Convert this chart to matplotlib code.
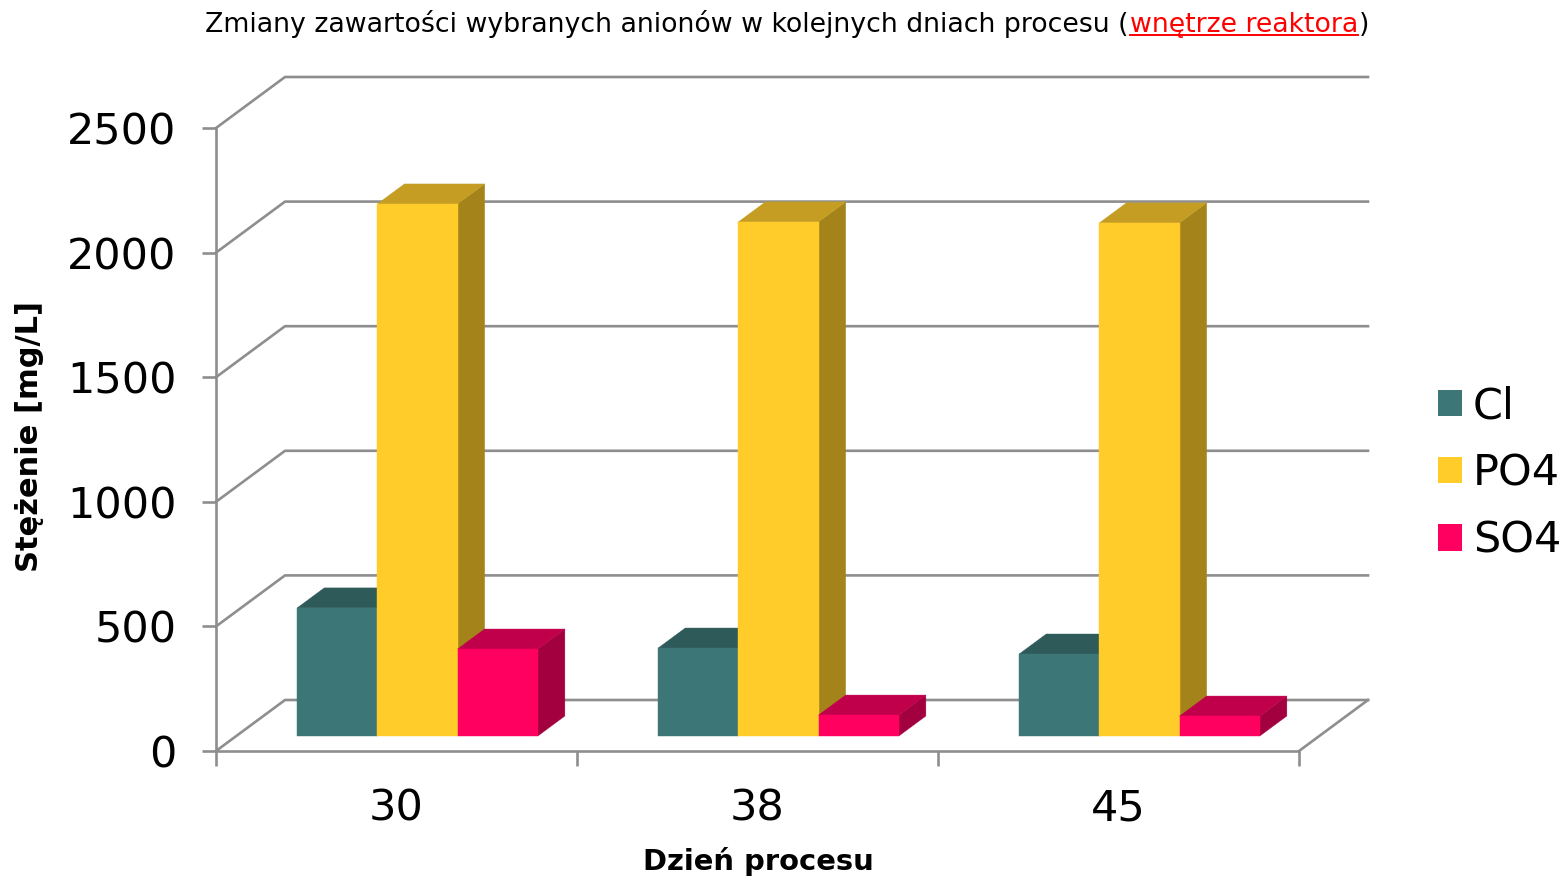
#!/usr/bin/env python
# %%
import matplotlib
matplotlib.use('Agg')
import matplotlib.pyplot as plt
from matplotlib.lines import Line2D
from matplotlib.patches import Patch, Polygon

# %%
days = ['30', '38', '45']
series_names = ['Cl', 'PO4', 'SO4']
cl_values = [514, 353, 329]
po4_values = [2135, 2063, 2059]
so4_values = [349, 84, 80]
y_ticks = [0, 500, 1000, 1500, 2000, 2500]

# front, top and side shades of each series
cl_colors = ['#3d7676', '#2e5a5a', '#264c4c']
po4_colors = ['#ffcc29', '#c49d22', '#a5831b']
so4_colors = ['#ff0061', '#c0004b', '#a3003f']

grid_color = '#8e8e8e'
W, H = 1566, 877

# %%
plt.rcParams['font.family'] = ['DejaVu Sans']
fig = plt.figure(figsize=(W / 100, H / 100), dpi=100)
ax = fig.add_axes([216 / W, (H - 751) / H, 1083 / W, 623 / H])
ax.set_xlim(0, 3)
ax.set_ylim(0, 2500)
ax.patch.set_visible(False)

# pseudo-3D depth of the chart box, in data units
depth_x = 69 / (1083 / 3)
depth_y = 51 / (623 / 2500)


def project(x, v, d):
    return x + d * depth_x, v + d * depth_y


# back wall, left wall and floor
for v in y_ticks:
    ax.plot([0, depth_x, 3 + depth_x], [v, v + depth_y, v + depth_y],
            color=grid_color, lw=1.9, clip_on=False, zorder=1)
ax.plot([3, 3 + depth_x], [0, depth_y], color=grid_color, lw=1.9, clip_on=False, zorder=1)

for s in ['top', 'right']:
    ax.spines[s].set_visible(False)
for s in ['left', 'bottom']:
    ax.spines[s].set_color(grid_color)
    ax.spines[s].set_linewidth(1.9)
    ax.spines[s].set_zorder(2)

ax.set_yticks(y_ticks)
ax.set_xticks([0, 1, 2, 3])
ax.set_xticklabels([])
ax.set_xticks([0.5, 1.5, 2.5], minor=True)
ax.set_xticklabels(days, minor=True)
ax.tick_params(axis='y', length=10, width=1.9, color=grid_color, labelsize=31, pad=18.3)
ax.tick_params(axis='x', which='major', length=10.5, width=1.9, color=grid_color)
ax.tick_params(axis='x', which='minor', length=0, labelsize=31, pad=26)

# %%
bar_width = 80.2 / (1083 / 3)
front_d = 15 / 51
back_d = 35 / 51
bar_shift = 0.7 / (1083 / 3)


def draw_bar(x0, v, colors, z):
    x1 = x0 + bar_width
    front = [project(x0, 0, front_d), project(x1, 0, front_d),
             project(x1, v, front_d), project(x0, v, front_d)]
    top = [project(x0, v, front_d), project(x1, v, front_d),
           project(x1, v, back_d), project(x0, v, back_d)]
    side = [project(x1, 0, front_d), project(x1, 0, back_d),
            project(x1, v, back_d), project(x1, v, front_d)]
    for pts, c in [(side, colors[2]), (top, colors[1]), (front, colors[0])]:
        ax.add_patch(Polygon(pts, closed=True, facecolor=c, edgecolor=c, lw=0.3,
                             clip_on=False, zorder=z))


all_values = [cl_values, po4_values, so4_values]
all_colors = [cl_colors, po4_colors, so4_colors]
z = 3
for i in range(len(days)):
    start = i + 0.5 - 1.5 * bar_width + bar_shift
    for j in range(3):
        draw_bar(start + j * bar_width, all_values[j][i], all_colors[j], z)
        z += 1

# %%
fig.text(758 / W, 1 - 861 / H, 'Dzień procesu', fontsize=20.9, fontweight='bold',
         ha='center', va='center')
fig.text(30 / W, 1 - 436 / H, 'Stężenie [mg/L]', fontsize=22, fontweight='bold',
         rotation=90, ha='center', va='center')

handles = [Patch(facecolor=c[0], edgecolor='none') for c in all_colors]
leg = fig.legend(handles, series_names, loc='center left', frameon=False, fontsize=31,
                 bbox_to_anchor=(1438 / W, 1 - 473.5 / H), borderpad=0, borderaxespad=0,
                 handlelength=0.558, handleheight=0.558, handletextpad=0.25,
                 labelspacing=0.585)

# %%
# title in three runs, the middle one red and underlined
renderer = fig.canvas.get_renderer()
title_y = 1 - 32 / H
x = 205
for part, color in [('Zmiany zawartości wybranych anionów w kolejnych dniach procesu (', 'black'),
                    ('wnętrze reaktora', 'red'), (')', 'black')]:
    t = fig.text(x / W, title_y, part, fontsize=19.3, color=color, ha='left', va='baseline')
    box = t.get_window_extent(renderer)
    if color == 'red':
        fig.add_artist(Line2D([box.x0 / W, box.x1 / W], [1 - 35 / H, 1 - 35 / H],
                              color='red', lw=1.4))
    x = box.x1 + 1

fig.savefig('out.png', dpi=100)
